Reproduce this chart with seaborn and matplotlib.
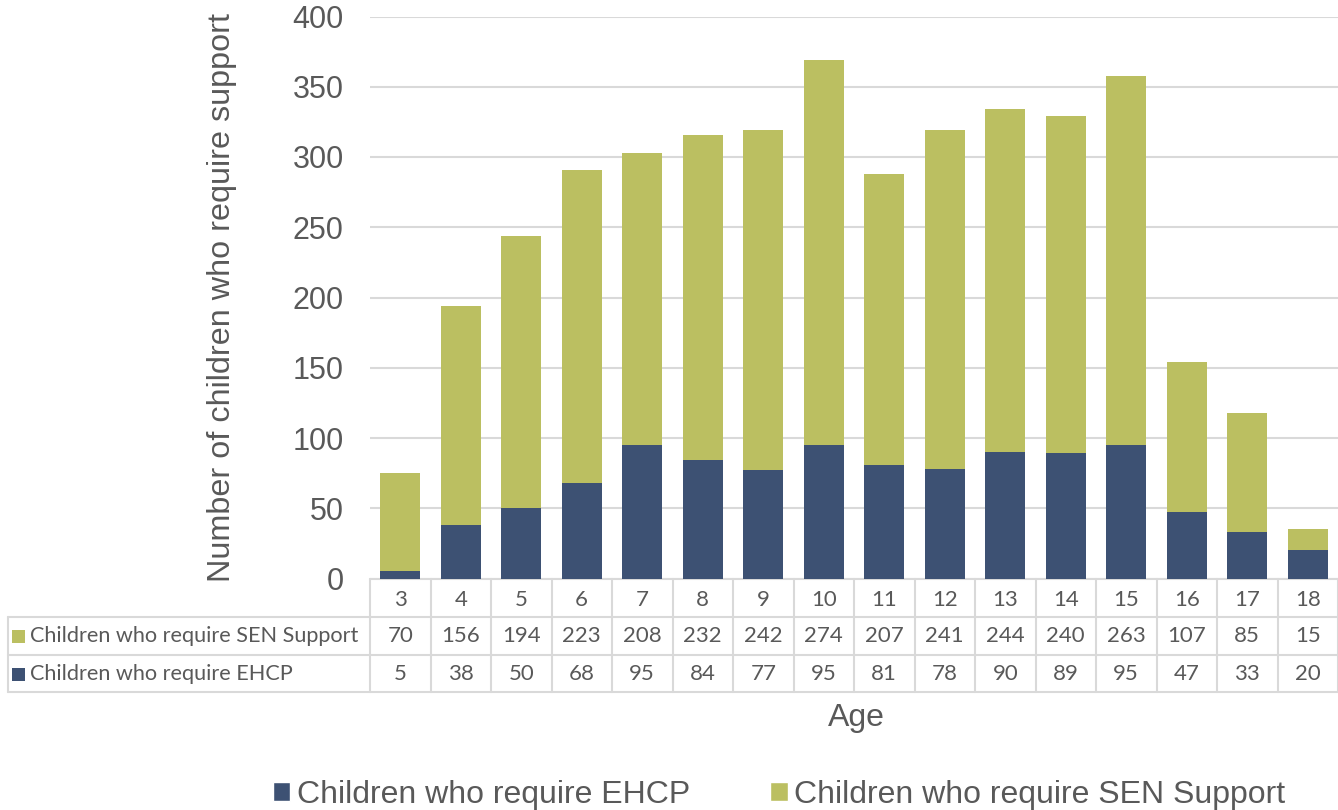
import matplotlib
matplotlib.use("Agg")
import matplotlib.pyplot as plt
import matplotlib.transforms as mtransforms
from matplotlib.patches import Rectangle
import seaborn as sns
import pandas as pd

ages = ["3", "4", "5", "6", "7", "8", "9", "10", "11", "12", "13", "14", "15", "16", "17", "18"]
sen_support = [70, 156, 194, 223, 208, 232, 242, 274, 207, 241, 244, 240, 263, 107, 85, 15]
ehcp = [5, 38, 50, 68, 95, 84, 77, 95, 81, 78, 90, 89, 95, 47, 33, 20]

EHCP_COLOR = "#3D5173"
SEN_COLOR = "#BBBF61"
TEXT_COLOR = "#595959"
GRID_COLOR = "#D9D9D9"

sns.set_theme(style="white")
plt.rcParams["font.family"] = ["Liberation Sans", "DejaVu Sans"]

df = pd.DataFrame({"Age": ages, "EHCP": ehcp, "SEN": sen_support})
df["Total"] = df["EHCP"] + df["SEN"]

fig = plt.figure(figsize=(13.38, 8.10), dpi=100)
ax = fig.add_axes([370 / 1338, 1 - 578.5 / 810, (1338 - 370) / 1338, (578.5 - 16.5) / 810])

sns.barplot(data=df, x="Age", y="Total", color=SEN_COLOR, width=0.66, ax=ax,
            saturation=1, edgecolor="none", zorder=2)
sns.barplot(data=df, x="Age", y="EHCP", color=EHCP_COLOR, width=0.66, ax=ax,
            saturation=1, edgecolor="none", zorder=3)

ax.set_ylim(0, 400)
ax.set_xlim(-0.5, len(ages) - 0.5)
ax.set_yticks(range(0, 401, 50))
ax.yaxis.grid(True, color=GRID_COLOR, linewidth=1.5, zorder=0)
ax.set_axisbelow(True)
for s in ax.spines.values():
    s.set_visible(False)
ax.tick_params(axis="y", labelsize=22, labelcolor=TEXT_COLOR, length=0, pad=19)
ax.set_xticks([])
ax.set_xlabel("")
ax.set_ylabel("Number of children who require support", fontsize=23.3, color=TEXT_COLOR, labelpad=40)

# Data table below the plot
tr = mtransforms.blended_transform_factory(ax.transData, ax.transAxes)
h_px = 578.5 - 16.5
def ya(py):
    return (578.5 - py) / h_px

y0, y1, y2, y3 = ya(578.5), ya(617), ya(655), ya(692)
x_left_px = 8
n = len(ages)
col_px = (1338 - 370) / n
x_left = -0.5 - (370 - x_left_px) / col_px
lw = 1.5
kw = dict(color=GRID_COLOR, lw=lw, transform=tr, clip_on=False, zorder=1)
ax.plot([-0.5, n - 0.5], [y0, y0], **kw)
for yy in (y1, y2, y3):
    ax.plot([x_left, n - 0.5], [yy, yy], **kw)
for i in range(n + 1):
    ax.plot([i - 0.5, i - 0.5], [y0, y3], **kw)
ax.plot([x_left, x_left], [y1, y3], **kw)

tfont = dict(family=["Lato", "DejaVu Sans"], fontsize=16, color=TEXT_COLOR, transform=tr,
             va="center", clip_on=False)
for i, a in enumerate(ages):
    ax.text(i, ya(599.5), a, ha="center", **tfont)
    ax.text(i, ya(636.5), str(sen_support[i]), ha="center", **tfont)
    ax.text(i, ya(674.5), str(ehcp[i]), ha="center", **tfont)

xpx = 1 / col_px
lfont = dict(tfont)
lfont["fontsize"] = 15.6
ax.text(x_left + 22 * xpx, ya(636.5), "Children who require SEN Support", ha="left", **lfont)
ax.text(x_left + 22 * xpx, ya(674.5), "Children who require EHCP", ha="left", **lfont)
sq_h = 13 / h_px
for yy, col in ((ya(636.5), SEN_COLOR), (ya(674.5), EHCP_COLOR)):
    ax.add_patch(Rectangle((x_left + 4 * xpx, yy - sq_h / 2), 13 * xpx, sq_h, transform=tr,
                           facecolor=col, edgecolor="none", clip_on=False))

fig.text(856 / 1338, 1 - 718 / 810, "Age", ha="center", va="center", fontsize=23, color=TEXT_COLOR)

handles = [Rectangle((0, 0), 1, 1, facecolor=EHCP_COLOR), Rectangle((0, 0), 1, 1, facecolor=SEN_COLOR)]
fig.legend(handles, ["Children who require EHCP", "Children who require SEN Support"],
           loc="center", bbox_to_anchor=(779 / 1338, 1 - 795 / 810), ncol=2, frameon=False,
           fontsize=23, labelcolor=TEXT_COLOR, handlelength=0.55, handleheight=0.55,
           handletextpad=0.2, columnspacing=2.5)

fig.savefig("out.png", dpi=100)
